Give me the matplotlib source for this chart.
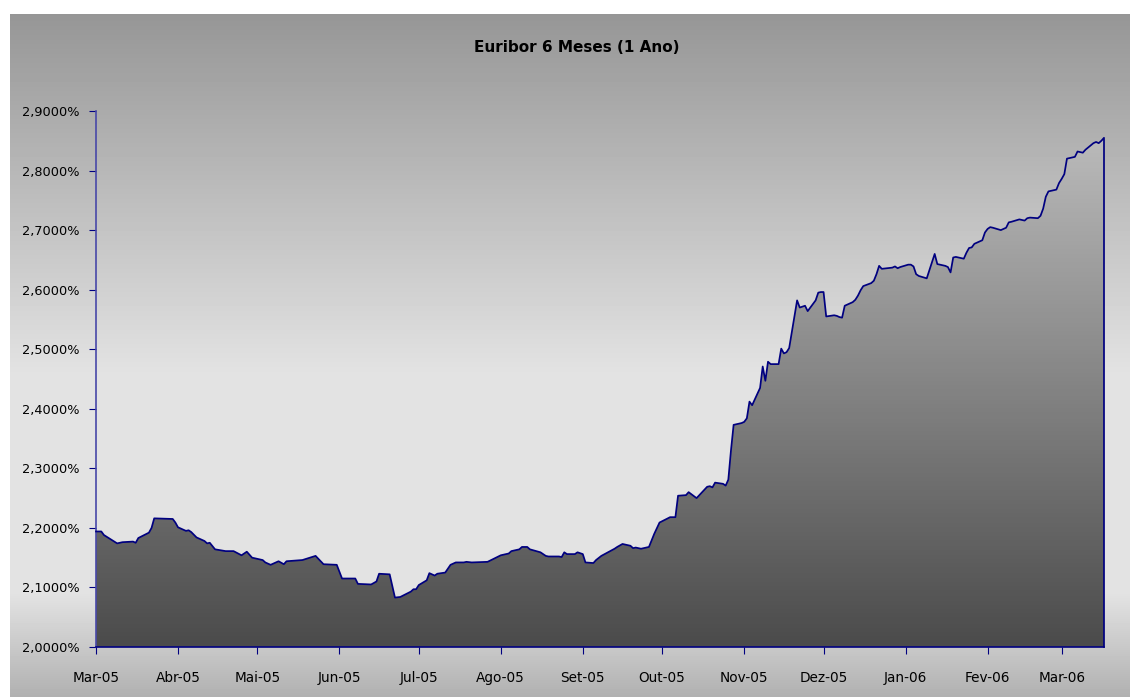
import numpy as np, pandas as pd, matplotlib
matplotlib.use("Agg")
import matplotlib.pyplot as plt
import matplotlib.dates as mdates
from matplotlib.colors import LinearSegmentedColormap
from matplotlib.patches import Polygon
from matplotlib.ticker import FuncFormatter, MultipleLocator

# Euribor 6 meses, valores diarios (%)
dates = [
    "2005-03-01", "2005-03-03", "2005-03-04", "2005-03-09", "2005-03-11", "2005-03-15", "2005-03-16",
    "2005-03-17", "2005-03-21", "2005-03-22", "2005-03-23", "2005-03-30", "2005-03-31", "2005-04-01",
    "2005-04-04", "2005-04-05", "2005-04-06", "2005-04-08", "2005-04-11", "2005-04-12", "2005-04-13",
    "2005-04-15", "2005-04-19", "2005-04-22", "2005-04-25", "2005-04-27", "2005-04-29", "2005-05-03",
    "2005-05-04", "2005-05-06", "2005-05-09", "2005-05-11", "2005-05-12", "2005-05-18", "2005-05-23",
    "2005-05-26", "2005-05-31", "2005-06-02", "2005-06-07", "2005-06-08", "2005-06-13", "2005-06-15",
    "2005-06-16", "2005-06-20", "2005-06-22", "2005-06-24", "2005-06-28", "2005-06-29", "2005-06-30",
    "2005-07-01", "2005-07-04", "2005-07-05", "2005-07-07", "2005-07-08", "2005-07-11", "2005-07-13",
    "2005-07-15", "2005-07-18", "2005-07-19", "2005-07-21", "2005-07-27", "2005-08-01", "2005-08-03",
    "2005-08-04", "2005-08-05", "2005-08-08", "2005-08-09", "2005-08-11", "2005-08-12", "2005-08-16",
    "2005-08-18", "2005-08-19", "2005-08-23", "2005-08-24", "2005-08-25", "2005-08-26", "2005-08-29",
    "2005-08-30", "2005-09-01", "2005-09-02", "2005-09-05", "2005-09-06", "2005-09-08", "2005-09-13",
    "2005-09-14", "2005-09-16", "2005-09-19", "2005-09-20", "2005-09-21", "2005-09-23", "2005-09-26",
    "2005-09-28", "2005-09-30", "2005-10-04", "2005-10-06", "2005-10-07", "2005-10-10", "2005-10-11",
    "2005-10-14", "2005-10-18", "2005-10-19", "2005-10-20", "2005-10-21", "2005-10-24", "2005-10-25",
    "2005-10-26", "2005-10-27", "2005-10-28", "2005-10-31", "2005-11-01", "2005-11-02", "2005-11-03",
    "2005-11-04", "2005-11-07", "2005-11-08", "2005-11-09", "2005-11-10", "2005-11-11", "2005-11-14",
    "2005-11-15", "2005-11-16", "2005-11-17", "2005-11-18", "2005-11-21", "2005-11-22", "2005-11-24",
    "2005-11-25", "2005-11-28", "2005-11-29", "2005-11-30", "2005-12-01", "2005-12-02", "2005-12-05",
    "2005-12-06", "2005-12-07", "2005-12-08", "2005-12-09", "2005-12-12", "2005-12-13", "2005-12-14",
    "2005-12-15", "2005-12-16", "2005-12-19", "2005-12-20", "2005-12-21", "2005-12-22", "2005-12-23",
    "2005-12-27", "2005-12-28", "2005-12-29", "2005-12-30", "2006-01-02", "2006-01-03", "2006-01-04",
    "2006-01-05", "2006-01-06", "2006-01-09", "2006-01-12", "2006-01-13", "2006-01-16", "2006-01-17",
    "2006-01-18", "2006-01-19", "2006-01-20", "2006-01-23", "2006-01-24", "2006-01-25", "2006-01-26",
    "2006-01-27", "2006-01-30", "2006-01-31", "2006-02-01", "2006-02-02", "2006-02-03", "2006-02-06",
    "2006-02-07", "2006-02-08", "2006-02-09", "2006-02-10", "2006-02-13", "2006-02-14", "2006-02-15",
    "2006-02-16", "2006-02-17", "2006-02-20", "2006-02-21", "2006-02-22", "2006-02-23", "2006-02-24",
    "2006-02-27", "2006-02-28", "2006-03-01", "2006-03-02", "2006-03-03", "2006-03-06", "2006-03-07",
    "2006-03-08", "2006-03-09", "2006-03-10", "2006-03-13", "2006-03-14", "2006-03-15", "2006-03-16",
    "2006-03-17",
]
euribor = [
    2.194, 2.194, 2.188, 2.174, 2.176, 2.177, 2.175,
    2.183, 2.192, 2.200, 2.216, 2.215, 2.209, 2.201,
    2.195, 2.196, 2.193, 2.184, 2.178, 2.174, 2.175,
    2.164, 2.161, 2.161, 2.154, 2.160, 2.150, 2.146,
    2.142, 2.138, 2.144, 2.139, 2.144, 2.146, 2.153,
    2.139, 2.138, 2.115, 2.115, 2.106, 2.105, 2.110,
    2.123, 2.122, 2.083, 2.084, 2.093, 2.097, 2.097,
    2.104, 2.112, 2.124, 2.120, 2.123, 2.125, 2.138,
    2.142, 2.142, 2.143, 2.142, 2.143, 2.154, 2.156,
    2.157, 2.161, 2.164, 2.168, 2.168, 2.164, 2.159,
    2.153, 2.152, 2.152, 2.151, 2.159, 2.156, 2.156,
    2.159, 2.156, 2.142, 2.141, 2.146, 2.153, 2.165,
    2.168, 2.173, 2.170, 2.166, 2.167, 2.165, 2.168,
    2.190, 2.209, 2.218, 2.218, 2.254, 2.255, 2.260,
    2.250, 2.269, 2.270, 2.268, 2.276, 2.274, 2.271,
    2.281, 2.330, 2.373, 2.376, 2.378, 2.384, 2.412,
    2.406, 2.435, 2.471, 2.447, 2.479, 2.475, 2.475,
    2.501, 2.493, 2.495, 2.502, 2.582, 2.570, 2.573,
    2.564, 2.582, 2.595, 2.596, 2.596, 2.555, 2.557,
    2.556, 2.554, 2.553, 2.573, 2.579, 2.583, 2.590,
    2.599, 2.606, 2.611, 2.615, 2.626, 2.640, 2.635,
    2.637, 2.639, 2.636, 2.638, 2.642, 2.642, 2.639,
    2.626, 2.623, 2.619, 2.660, 2.643, 2.640, 2.638,
    2.629, 2.654, 2.655, 2.652, 2.662, 2.670, 2.671,
    2.677, 2.683, 2.696, 2.702, 2.705, 2.704, 2.700,
    2.702, 2.704, 2.713, 2.714, 2.718, 2.717, 2.716,
    2.720, 2.721, 2.720, 2.724, 2.736, 2.756, 2.765,
    2.768, 2.779, 2.786, 2.794, 2.820, 2.823, 2.832,
    2.831, 2.830, 2.835, 2.846, 2.848, 2.846, 2.850,
    2.855,
]
month_labels = ["Mar-05", "Abr-05", "Mai-05", "Jun-05", "Jul-05", "Ago-05", "Set-05",
                "Out-05", "Nov-05", "Dez-05", "Jan-06", "Fev-06", "Mar-06"]
title = "Euribor 6 Meses (1 Ano)"

W, H = 1130, 697
NAVY = "#000080"
plt.rcParams["font.family"] = ["DejaVu Sans"]

fig = plt.figure(figsize=(W / 100, H / 100), dpi=100)
fig.patch.set_facecolor("white")

# chart area background (grey -> light -> grey, vertical), one row per pixel
bg = fig.add_axes([10 / W, 0, 1 - 10 / W, 1 - 14 / H], zorder=0)
rows = np.arange(14, H)
shade = np.interp(rows, [14, 380, 590, 697], [150, 228, 228, 176]) / 255
bg.imshow(np.repeat(shade[:, None], W - 10, axis=1), cmap="gray", vmin=0, vmax=1,
          aspect="auto", extent=[0, 1, 0, 1], interpolation="nearest")
bg.axis("off")

ax = fig.add_axes([96 / W, 50 / H, 1008 / W, 536 / H], zorder=1)
ax.patch.set_alpha(0)

x = mdates.date2num(pd.to_datetime(dates))
y = np.array(euribor)
x0 = mdates.date2num(pd.Timestamp("2005-03-01"))
x1 = x[-1]

# area with vertical gradient fill
verts = np.column_stack([np.r_[x[0], x, x[-1]], np.r_[2.0, y, 2.0]])
area = Polygon(verts, closed=True, facecolor="none", edgecolor="none")
ax.add_patch(area)
fill_cmap = LinearSegmentedColormap.from_list("fill", ["#4b4b4b", "#c0c0c0"])
grad = np.repeat(np.linspace(0, 1, 536)[:, None], 8, axis=1)
img = ax.imshow(grad, cmap=fill_cmap, origin="lower", aspect="auto",
                extent=[x0, x1, 2.0, 2.9], zorder=2, interpolation="nearest")
img.set_clip_path(area)
ax.plot(np.r_[x, x[-1]], np.r_[y, 2.0], color=NAVY, lw=1.25, zorder=3, clip_on=False)

ax.set_xlim(x0, x1)
ax.set_ylim(2.0, 2.9)
ax.yaxis.set_major_locator(MultipleLocator(0.1))
ax.yaxis.set_major_formatter(FuncFormatter(lambda v, _: f"{v:.4f}%".replace(".", ",")))
ax.set_xticks(mdates.date2num(pd.date_range("2005-03-01", "2006-03-01", freq="MS")))
ax.set_xticklabels(month_labels)

for s in ["top", "right"]:
    ax.spines[s].set_visible(False)
ax.spines["left"].set_color("#4848a8")
ax.spines["bottom"].set_color(NAVY)
ax.spines["left"].set_linewidth(1.2)
ax.spines["bottom"].set_linewidth(1.2)
ax.tick_params(axis="y", direction="out", length=5, color=NAVY, pad=7, labelsize=9.3)
ax.tick_params(axis="x", direction="out", length=5, color=NAVY, pad=12, labelsize=9.8)

fig.text(577 / W, 1 - 47 / H, title, ha="center", va="center", fontsize=11, fontweight="bold")

fig.savefig("out.png", dpi=100)
